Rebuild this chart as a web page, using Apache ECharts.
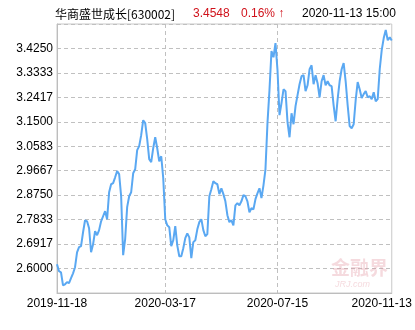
<!DOCTYPE html>
<html>
<head>
<meta charset="utf-8">
<script src="https://cdn.jsdelivr.net/npm/echarts@6/dist/echarts.min.js"></script>
<style>html,body{margin:0;padding:0;background:#fff;}#c{width:415px;height:330px;}</style>
</head>
<body>
<div id="c"></div>
<script>
const navValues = [
2.616,2.590,2.586,2.537,2.541,2.549,2.545,2.564,2.582,2.605,
2.661,2.680,2.684,2.736,2.781,2.777,2.751,2.661,2.691,2.740,
2.725,2.744,2.777,2.796,2.815,2.785,2.886,2.916,2.920,2.942,
2.965,2.954,2.871,2.650,2.710,2.830,2.871,2.886,2.957,2.972,
3.044,3.059,3.100,3.156,3.145,3.085,3.010,2.999,3.051,3.092,
3.051,3.002,3.021,2.939,2.785,2.762,2.755,2.684,2.706,2.759,
2.687,2.646,2.646,2.676,2.714,2.732,2.717,2.639,2.699,2.706,
2.747,2.774,2.785,2.744,2.721,2.729,2.871,2.897,2.927,2.920,
2.916,2.879,2.901,2.879,2.852,2.800,2.774,2.781,2.762,2.837,
2.845,2.837,2.852,2.875,2.871,2.852,2.811,2.826,2.822,2.860,
2.882,2.901,2.864,2.912,2.972,3.145,3.269,3.415,3.392,3.445,
3.344,3.175,3.220,3.272,3.265,3.149,3.092,3.182,3.141,3.209,
3.250,3.291,3.321,3.325,3.265,3.287,3.347,3.362,3.291,3.325,
3.295,3.242,3.302,3.325,3.287,3.302,3.287,3.284,3.212,3.152,
3.235,3.302,3.347,3.370,3.302,3.212,3.134,3.126,3.141,3.231,
3.299,3.272,3.239,3.254,3.265,3.242,3.246,3.235,3.261,3.227,
3.235,3.347,3.419,3.464,3.494,3.456,3.467,3.4548
];
// Date tick labels and the sample index at which each falls
const tickLabels = ['2019-11-18','2020-03-17','2020-07-15','2020-11-13'];
const tickIndex = [0, 54, 110, 167];
// Y tick values
const yTicks = [2.6000,2.6917,2.7833,2.8750,2.9667,3.0583,3.1500,3.2417,3.3333,3.4250];
// Header texts
const fundName = '华商盛世成长[630002]';
const lastNav = '3.4548';
const lastChange = '0.16% ↑';
const lastTime = '2020-11-13 15:00';

const categories = navValues.map((v, i) => String(i));
const yStep = (yTicks[yTicks.length - 1] - yTicks[0]) / (yTicks.length - 1);

const chart = echarts.init(document.getElementById('c'), null, {renderer: 'canvas'});
const font = 'Liberation Sans, Arial, sans-serif';
const isTick = (idx) => tickIndex.indexOf(Number(idx)) >= 0;

chart.setOption({
  animation: false,
  backgroundColor: '#fff',
  grid: {left: 57, right: 23, top: 24, bottom: 37, show: true, borderColor: '#c8c8c8', borderWidth: 1},
  xAxis: {
    type: 'category',
    data: categories,
    boundaryGap: false,
    axisLine: {lineStyle: {color: '#bdbdbd', width: 1}},
    axisTick: {show: false},
    axisLabel: {
      interval: (i) => isTick(i),
      color: '#000',
      fontFamily: font,
      fontSize: 12,
      margin: 5,
      formatter: (val, i) => {
        const k = tickIndex.indexOf(Number(val));
        if (k < 0) return '';
        if (k === tickLabels.length - 1) return '{r|' + tickLabels[k] + '}';
        return tickLabels[k];
      },
      rich: {r: {color: '#000', fontFamily: font, fontSize: 12, padding: [0, 20, 0, 0]}}
    },
    splitLine: {
      show: true,
      interval: (i) => { const n = Number(i); return n === tickIndex[1] || n === tickIndex[2]; },
      lineStyle: {color: '#c0c0c0', type: [4, 3], width: 1}
    }
  },
  yAxis: {
    type: 'value',
    min: yTicks[0] - yStep,
    max: yTicks[yTicks.length - 1] + yStep,
    interval: yStep,
    axisLine: {show: true, lineStyle: {color: '#bdbdbd', width: 1}},
    axisTick: {show: false},
    axisLabel: {
      showMinLabel: false,
      showMaxLabel: false,
      color: '#000',
      fontFamily: font,
      fontSize: 12,
      margin: 4,
      formatter: (v) => v.toFixed(4)
    },
    splitLine: {show: true, lineStyle: {color: '#c0c0c0', type: [4, 3], width: 1}}
  },
  series: [{
    type: 'line',
    data: navValues,
    showSymbol: false,
    smooth: false,
    lineStyle: {color: '#5aa8f2', width: 2},
    z: 3
  }],
  graphic: [
    {type: 'text', left: 55, top: 8, style: {text: fundName, fill: '#000', font: '12px "Noto Sans CJK SC", sans-serif'}},
    {type: 'text', left: 193, top: 8, style: {text: lastNav, fill: '#d0121b', font: '12px ' + font}},
    {type: 'text', left: 241, top: 8, style: {text: lastChange, fill: '#d0121b', font: '12px ' + font}},
    {type: 'text', left: 302, top: 8, style: {text: lastTime, fill: '#000', font: '12px ' + font}},
    {type: 'text', left: 331, top: 258, z: 1, style: {text: '金融界', fill: 'rgba(225,150,160,0.35)', font: 'bold 19px "Noto Sans CJK SC", sans-serif'}},
    {type: 'text', left: 335, top: 280, z: 1, style: {text: 'JRJ.com', fill: 'rgba(225,150,160,0.35)', font: 'italic 9px ' + font}}
  ]
});
</script>
</body>
</html>
